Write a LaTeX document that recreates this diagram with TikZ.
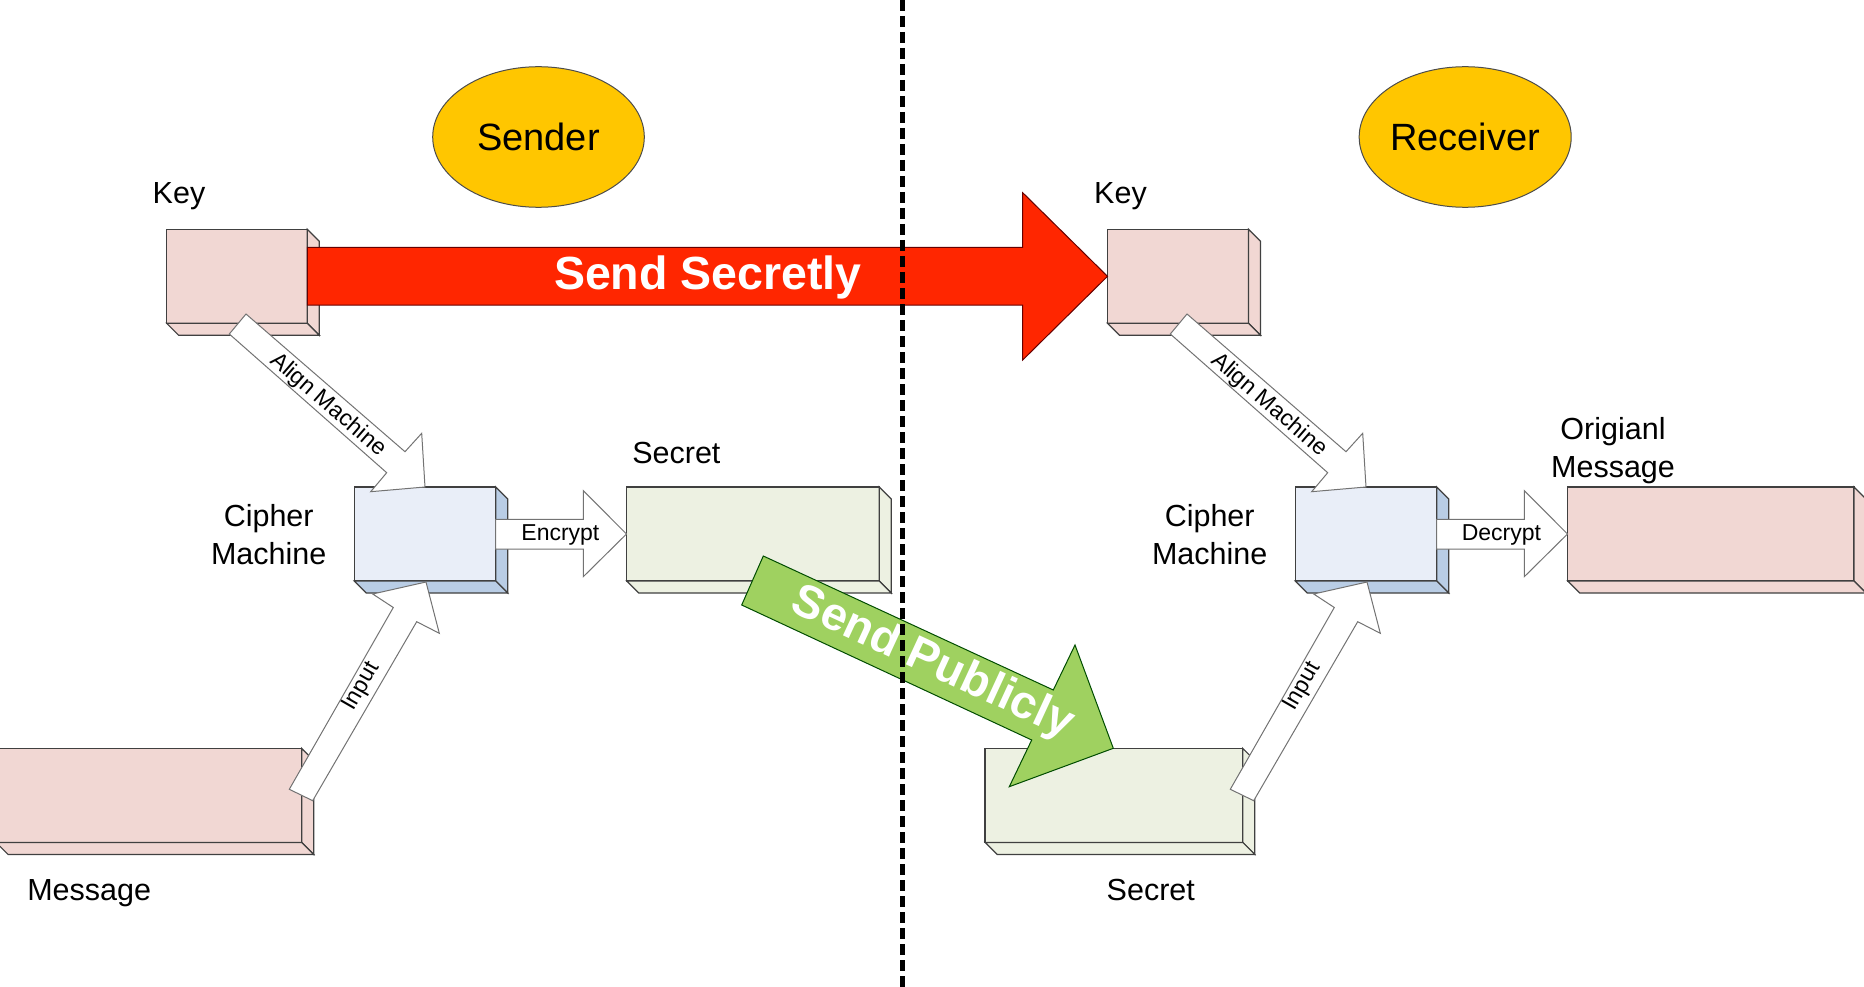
\documentclass[tikz,border=0pt]{standalone}
\usepackage{fontspec}
\setmainfont{Liberation Sans}
\usetikzlibrary{shapes.geometric,calc}

\definecolor{gold}{RGB}{255,198,0}
\definecolor{keypink}{RGB}{241,215,211}
\definecolor{machfront}{RGB}{233,238,248}
\definecolor{machside}{RGB}{185,205,229}
\definecolor{cream}{RGB}{237,241,226}
\definecolor{secretred}{RGB}{255,38,0}
\definecolor{publicgreen}{RGB}{159,209,96}

% side and bottom faces of a box node
\newcommand\slab[2]{%
  \filldraw[boxline,fill=#2] (#1.north east) -- ++(12,12)
    -- ($(#1.south east)+(12,12)$) -- (#1.south east) -- cycle;
  \filldraw[boxline,fill=#2] (#1.south west) -- ++(12,12)
    -- ($(#1.south east)+(12,12)$) -- (#1.south east) -- cycle;}

\begin{document}
\begin{tikzpicture}[x=1pt,y=-1pt,
  boxline/.style={draw=black!75,line width=1.2pt},
  box/.style={boxline,rectangle,inner sep=0pt,outer sep=0pt,minimum height=94pt},
  party/.style={ellipse,draw=black!70,line width=1pt,fill=gold,inner sep=0pt,
    minimum width=211.6pt,minimum height=140.6pt,font=\fontsize{38}{45}\selectfont},
  blockarrow/.style={fill=white,draw=black!55,line width=1pt},
  lbl/.style={inner sep=0pt,anchor=base,font=\fontsize{30.5}{38}\selectfont},
  twolbl/.style={inner sep=0pt,align=center,font=\fontsize{30.5}{38}\selectfont},
  tag/.style={inner sep=0pt,font=\fontsize{23}{27}\selectfont},
  shout/.style={inner sep=0pt,text=white,font=\bfseries\fontsize{46.5}{55}\selectfont}]
  \useasboundingbox (0,0) rectangle (1864,987);

  \node[party] (sender) at (538.5,137) {Sender};
  \node[party] (receiver) at (1465.2,137) {Receiver};

  % boxes
  \node[box,fill=keypink,minimum width=140.6pt] (keyL) at (237,276.3) {};
  \node[box,fill=keypink,minimum width=141pt] (keyR) at (1178,276.3) {};
  \node[box,fill=machfront,minimum width=141.4pt] (machL) at (425,534) {};
  \node[box,fill=machfront,minimum width=141.4pt] (machR) at (1366,534) {};
  \node[box,fill=cream,minimum width=252.6pt] (secretL) at (753,534) {};
  \node[box,fill=cream,minimum width=257.7pt] (secretR) at (1113.9,795.4) {};
  \node[box,fill=keypink,minimum width=305.7pt] (msgL) at (148.9,795.4) {};
  \node[box,fill=keypink,minimum width=286.3pt] (msgR) at (1710.9,534) {};
  \slab{keyL}{keypink}
  \slab{keyR}{keypink}
  \slab{machL}{machside}
  \slab{machR}{machside}
  \slab{secretL}{cream}
  \slab{secretR}{cream}
  \slab{msgL}{keypink}
  \slab{msgR}{keypink}

  % send secretly
  \filldraw[fill=secretred,draw=black!60!red,line width=1pt]
    (307.3,247.3) -- (1022.7,247.3) -- (1022.7,192.7) -- (1107.5,276.3)
    -- (1022.7,360) -- (1022.7,305) -- (307.3,305) -- cycle;

  \begin{scope}[blockarrow]
  \filldraw (246,314) -- (405,451.7) -- (421.7,433.3) -- (425,487)
    -- (370.7,491.7) -- (386.7,472.7) -- (229.3,334) -- cycle;
  \filldraw (289.3,789.3) -- (393.3,607.5) -- (372.7,594) -- (426,582)
    -- (439.3,633.3) -- (416.7,621.7) -- (312.7,800.7) -- cycle;
  \filldraw (495.7,519.3) -- (583.3,519.3) -- (583.3,490.7) -- (626.5,534)
    -- (583.3,576.7) -- (583.3,549) -- (495.7,549) -- cycle;
  \begin{scope}[xshift=941pt]
  \filldraw (246,314) -- (405,451.7) -- (421.7,433.3) -- (425,487)
    -- (370.7,491.7) -- (386.7,472.7) -- (229.3,334) -- cycle;
  \filldraw (289.3,789.3) -- (393.3,607.5) -- (372.7,594) -- (426,582)
    -- (439.3,633.3) -- (416.7,621.7) -- (312.7,800.7) -- cycle;
  \filldraw (495.7,519.3) -- (583.3,519.3) -- (583.3,490.7) -- (626.5,534)
    -- (583.3,576.7) -- (583.3,549) -- (495.7,549) -- cycle;
  \end{scope}
  \end{scope}

  % send publicly
  \filldraw[fill=publicgreen,draw=black!70!green,line width=1pt]
    (763.3,556) -- (1053.3,690) -- (1075,645) -- (1113.3,748.3)
    -- (1009.3,786.7) -- (1031.7,740) -- (741.7,605) -- cycle;

  % texts
  \node[shout,anchor=base] (secretly) at (707.9,290) {Send Secretly};
  \node[shout,rotate=-24.8] (publicly) at (932.3,663.5) {Send Publicly};
  \node[tag,rotate=-40.9] (alignL) at (328,405) {Align Machine};
  \node[tag,rotate=-40.9] (alignR) at (1269,405) {Align Machine};
  \node[tag,rotate=60.2] (inputL) at (361.7,686.7) {Input};
  \node[tag,rotate=60.2] (inputR) at (1302.7,686.7) {Input};
  \node[tag,anchor=base] (encrypt) at (560.4,540.7) {Encrypt};
  \node[tag,anchor=base] (decrypt) at (1501.4,540.7) {Decrypt};

  \node[lbl] (keyLbl) at (179,204) {Key};
  \node[lbl] (keyLblR) at (1120.5,204) {Key};
  \node[twolbl] (machLbl) at (268.7,534.9) {Cipher\\Machine};
  \node[twolbl] (machLblR) at (1209.7,534.9) {Cipher\\Machine};
  \node[lbl] (secretLbl) at (676.4,463) {Secret};
  \node[lbl] (msgLbl) at (89.2,900) {Message};
  \node[lbl] (secretLblR) at (1150.8,900) {Secret};
  \node[twolbl] (msgLblR) at (1613,450.3) {Origianl\\Message};

  % sender | receiver
  \draw[line width=5pt,dash pattern=on 11pt off 5pt] (902.3,0) -- (902.3,987);
\end{tikzpicture}
\end{document}
